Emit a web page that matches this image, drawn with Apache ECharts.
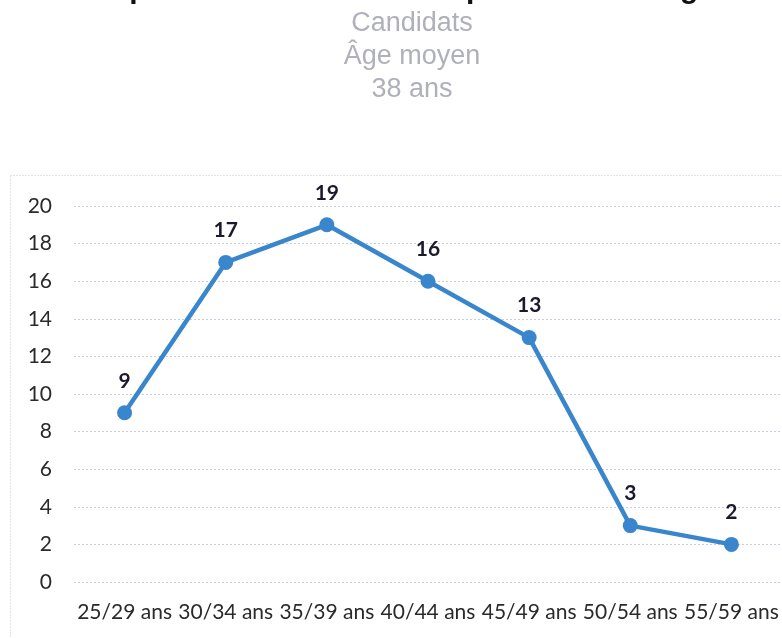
<!DOCTYPE html>
<html>
<head>
<meta charset="utf-8">
<script src="https://cdn.jsdelivr.net/npm/echarts@6/dist/echarts.min.js"></script>
<style>
html,body{margin:0;padding:0;background:#fff;}
#main{width:782px;height:638px;}
</style>
</head>
<body>
<div id="main"></div>
<script>
const categories = ['25/29 ans','30/34 ans','35/39 ans','40/44 ans','45/49 ans','50/54 ans','55/59 ans'];
const values = [9, 17, 19, 16, 13, 3, 2];
const yTicks = {min: 0, max: 20, interval: 2};
const titleText = "Répartition des candidats par tranche d'âge";
const subtitleLines = ['Candidats', 'Âge moyen', '38 ans'];

const subFont = {fontFamily: 'Liberation Sans', fontSize: 27, fill: '#b0b0ba', align: 'center', verticalAlign: 'middle'};
const subY = [24, 57, 90];

const chart = echarts.init(document.getElementById('main'), null, {renderer: 'canvas'});
chart.setOption({
  backgroundColor: '#ffffff',
  animation: false,
  graphic: [
    {type: 'text', x: 403, y: -10,
     style: {text: titleText, fontFamily: 'Liberation Sans', fontWeight: 'bold', fontSize: 30,
             fill: '#111', align: 'center', verticalAlign: 'middle'}},
    {type: 'text', x: 412, y: subY[0], style: Object.assign({text: subtitleLines[0]}, subFont)},
    {type: 'text', x: 412, y: subY[1], style: Object.assign({text: subtitleLines[1]}, subFont)},
    {type: 'text', x: 412, y: subY[2], style: Object.assign({text: subtitleLines[2]}, subFont)},
    {type: 'rect', x: 10.5, y: 175.5, z: -1,
     shape: {width: 800, height: 500},
     style: {fill: 'none', stroke: '#c4c8d8', lineWidth: 1, lineDash: [1, 2]}}
  ],
  grid: {left: 74, top: 206, width: 709, height: 376},
  xAxis: {
    type: 'category', data: categories, boundaryGap: true,
    axisLine: {show: false}, axisTick: {show: false},
    axisLabel: {fontFamily: 'Lato', fontSize: 21, color: '#2a2a2a', margin: 20, interval: 0}
  },
  yAxis: {
    type: 'value', min: yTicks.min, max: yTicks.max, interval: yTicks.interval,
    axisLine: {show: false}, axisTick: {show: false},
    axisLabel: {fontFamily: 'Lato', fontSize: 21, color: '#2a2a2a', margin: 22},
    splitLine: {lineStyle: {color: '#c9ccdd', type: [2, 2], width: 1}}
  },
  series: [{
    type: 'line', data: values,
    symbol: 'circle', symbolSize: 15,
    lineStyle: {color: '#3a86cc', width: 4.5},
    itemStyle: {color: '#3a86cc'},
    label: {show: true, position: 'top', distance: 14,
            fontFamily: 'Lato', fontWeight: 'bold', fontSize: 21, color: '#1a1a2c'}
  }]
});
</script>
</body>
</html>
